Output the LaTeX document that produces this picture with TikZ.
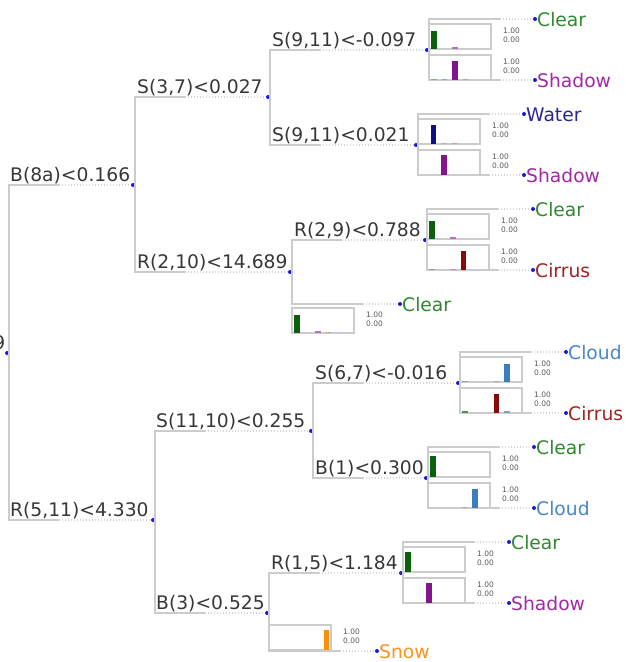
\documentclass[tikz,border=0pt]{standalone}
\usepackage{fontspec}
\setmainfont{DejaVu Sans}
\usetikzlibrary{calc}
\definecolor{ln}{RGB}{204,204,204}
\definecolor{dln}{RGB}{215,215,215}
\definecolor{dotc}{RGB}{25,25,215}
\definecolor{txt}{RGB}{55,55,55}
\definecolor{bClear}{RGB}{12,96,12}
\definecolor{bWater}{RGB}{16,16,130}
\definecolor{bShadow}{RGB}{130,20,140}
\definecolor{bCirrus}{RGB}{135,10,10}
\definecolor{bCloud}{RGB}{60,125,190}
\definecolor{bSnow}{RGB}{255,140,10}
\definecolor{lClear}{RGB}{50,135,50}
\definecolor{lWater}{RGB}{40,40,145}
\definecolor{lShadow}{RGB}{160,40,165}
\definecolor{lCirrus}{RGB}{160,35,35}
\definecolor{lCloud}{RGB}{75,135,200}
\definecolor{lSnow}{RGB}{255,145,30}
\tikzset{
  dot/.style={circle,fill=dotc,inner sep=0pt,minimum size=4pt},
  split/.style={font=\fontsize{18.7}{20}\selectfont,text=txt,inner sep=0pt,anchor=base west},
  leaflab/.style={font=\fontsize{18.7}{20}\selectfont,inner sep=0pt,anchor=base west},
  tree/.style={draw=ln,line width=1.6pt},
  dots/.style={draw=dln,line width=1.1pt,dash pattern=on 1.2pt off 1.8pt},
  scalelab/.style={font=\fontsize{7.5}{7.5}\selectfont,text=gray!70!black,inner sep=0pt,
    anchor=base west},
}
% edge from parent split to child split
\newcommand\splitedge[2]{%
  \draw[tree] ($(#1)+(2,0)$) |- ($(#1 |- #2)+(52,0)$);
  \draw[dots] ($(#1 |- #2)+(52,0)$) -- (#2);}
% edge from parent split to leaf dot
\newcommand\leafedge[2]{%
  \draw[tree] ($(#1)+(2,0)$) |- ($(#1 |- #2)+(73,0)$);
  \draw[dots] ($(#1 |- #2)+(73,0)$) -- (#2);}
% histogram: name, x, y (top), bars slot/height/color
\newcommand\hist[4]{%
  \draw[draw=ln,line width=1.3pt] (#2,#3) rectangle ++(62,25);
  \foreach \s/\h/\c in {#4} \fill[\c] ({#2+2+\s*10.5},{#3+25}) rectangle ++(5.5,{-\h});
  \node[scalelab] (#1hi) at ({#2+74},{#3+9.5}) {1.00};
  \node[scalelab] (#1lo) at ({#2+74},{#3+18.5}) {0.00};}
\begin{document}
\begin{tikzpicture}[x=1pt,y=-1pt]
\useasboundingbox (0,0) rectangle (625,662);
% ---- split nodes ----
\node[dot] (r) at (7,353) {};
\node[split,anchor=base east] (rt) at (5.5,349) {9};
\node[dot] (n1) at (133,185) {};  \node[split] (n1t) at (10,181.5) {B(8a)<0.166};
\node[dot] (n2) at (153,520) {};  \node[split] (n2t) at (10,516.5) {R(5,11)<4.330};
\node[dot] (n3) at (268,97) {};   \node[split] (n3t) at (137,93.5) {S(3,7)<0.027};
\node[dot] (n4) at (290,272) {};  \node[split] (n4t) at (137,268.5) {R(2,10)<14.689};
\node[dot] (n5) at (427,50) {};   \node[split] (n5t) at (272,46.5) {S(9,11)<-0.097};
\node[dot] (n6) at (416,145) {};  \node[split] (n6t) at (272,141.5) {S(9,11)<0.021};
\node[dot] (n7) at (425,240) {};  \node[split] (n7t) at (294,236.5) {R(2,9)<0.788};
\node[dot] (n8) at (311,431) {};  \node[split] (n8t) at (156,427.5) {S(11,10)<0.255};
\node[dot] (n9) at (267,613) {};  \node[split] (n9t) at (156,609.5) {B(3)<0.525};
\node[dot] (n10) at (458,383) {}; \node[split] (n10t) at (315,379.5) {S(6,7)<-0.016};
\node[dot] (n11) at (426,478) {}; \node[split] (n11t) at (315,474.5) {B(1)<0.300};
\node[dot] (n12) at (401,573) {}; \node[split] (n12t) at (271,569.5) {R(1,5)<1.184};
% ---- leaf dots and labels ----
\node[dot] (a1) at (535,19) {};  \node[leaflab,text=lClear] (a1t) at (537,26) {Clear};
\node[dot] (a2) at (535,80) {};  \node[leaflab,text=lShadow] (a2t) at (537,87) {Shadow};
\node[dot] (b1) at (524,114) {}; \node[leaflab,text=lWater] (b1t) at (526,121) {Water};
\node[dot] (b2) at (524,175) {}; \node[leaflab,text=lShadow] (b2t) at (526,182) {Shadow};
\node[dot] (c1) at (533,209) {}; \node[leaflab,text=lClear] (c1t) at (535,216) {Clear};
\node[dot] (c2) at (533,270) {}; \node[leaflab,text=lCirrus] (c2t) at (535,277) {Cirrus};
\node[dot] (d1) at (400,304) {}; \node[leaflab,text=lClear] (d1t) at (402,311) {Clear};
\node[dot] (e1) at (566,352) {}; \node[leaflab,text=lCloud] (e1t) at (568,359) {Cloud};
\node[dot] (e2) at (566,413) {}; \node[leaflab,text=lCirrus] (e2t) at (568,420) {Cirrus};
\node[dot] (f1) at (534,447) {}; \node[leaflab,text=lClear] (f1t) at (536,454) {Clear};
\node[dot] (f2) at (534,508) {}; \node[leaflab,text=lCloud] (f2t) at (536,515) {Cloud};
\node[dot] (g1) at (509,542) {}; \node[leaflab,text=lClear] (g1t) at (511,549) {Clear};
\node[dot] (g2) at (509,603) {}; \node[leaflab,text=lShadow] (g2t) at (511,610) {Shadow};
\node[dot] (h1) at (377,651) {}; \node[leaflab,text=lSnow] (h1t) at (379,658) {Snow};
% ---- connectors ----
\splitedge{r}{n1}\splitedge{r}{n2}
\splitedge{n1}{n3}\splitedge{n1}{n4}
\splitedge{n3}{n5}\splitedge{n3}{n6}
\splitedge{n4}{n7}\leafedge{n4}{d1}
\splitedge{n2}{n8}\splitedge{n2}{n9}
\splitedge{n8}{n10}\splitedge{n8}{n11}
\splitedge{n9}{n12}\leafedge{n9}{h1}
\leafedge{n5}{a1}\leafedge{n5}{a2}
\leafedge{n6}{b1}\leafedge{n6}{b2}
\leafedge{n7}{c1}\leafedge{n7}{c2}
\leafedge{n10}{e1}\leafedge{n10}{e2}
\leafedge{n11}{f1}\leafedge{n11}{f2}
\leafedge{n12}{g1}\leafedge{n12}{g2}
% ---- histograms ----
\hist{ha1}{429}{24}{0/18/bClear,2/2.5/bShadow!60}
\hist{ha2}{429}{55}{0/1.5/bClear!50,1/1.5/bWater!40,2/19/bShadow,3/1.5/bCirrus!40}
\hist{hb1}{418}{119}{1/19/bWater,2/1.5/bShadow!40,3/1.5/bCirrus!40}
\hist{hb2}{418}{150}{2/20/bShadow}
\hist{hc1}{427}{214}{0/18/bClear,2/2.5/bShadow!60}
\hist{hc2}{427}{245}{0/1.5/bClear!50,2/1.5/bShadow!50,3/19/bCirrus}
\hist{hd1}{292}{308}{0/18/bClear,2/2.5/bShadow!60,3/1.5/bCirrus!40,4/1.5/bCloud!40}
\hist{he1}{460}{357}{0/1.5/bClear!50,3/1.5/bCirrus!40,4/18/bCloud}
\hist{he2}{460}{388}{0/2.5/bClear!70,3/19/bCirrus,4/2.5/bCloud!70}
\hist{hf1}{428}{452}{0/21/bClear}
\hist{hf2}{428}{483}{3/1.5/bCirrus!40,4/19/bCloud}
\hist{hg1}{403}{547}{0/20/bClear}
\hist{hg2}{403}{578}{2/20/bShadow}
\hist{hh1}{269}{625}{5/20/bSnow}
\end{tikzpicture}
\end{document}
